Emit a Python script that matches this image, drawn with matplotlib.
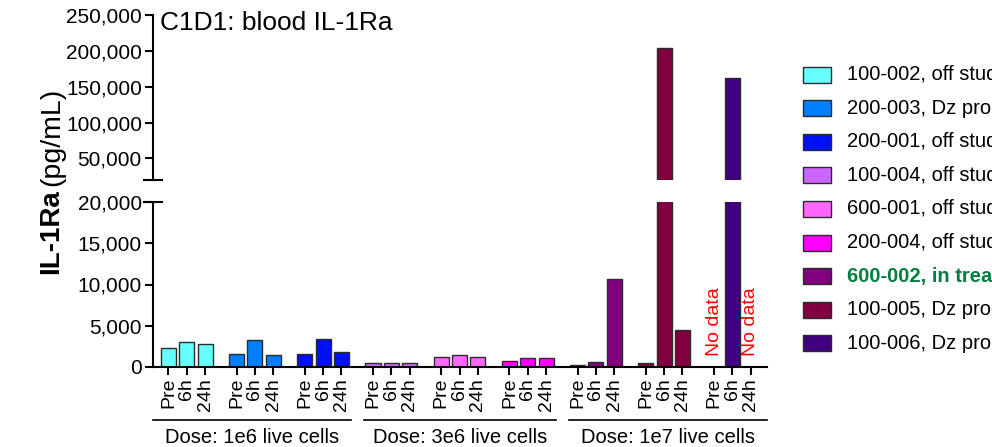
import numpy as np
import matplotlib
matplotlib.use("Agg")
import matplotlib.pyplot as plt
from matplotlib.lines import Line2D
from matplotlib.patches import Rectangle
from matplotlib.ticker import FuncFormatter

plt.rcParams['font.family'] = ['Liberation Sans', 'DejaVu Sans']

# data (pg/mL), NaN = no sample
timepoints = ["Pre", "6h", "24h"]
patients = ["100-002, off study", "200-003, Dz progression", "200-001, off study",
            "100-004, off study", "600-001, off study", "200-004, off study",
            "600-002, in treatment", "100-005, Dz progression", "100-006, Dz progression"]
bar_colors = ["#66FFFF", "#0080FF", "#0010F5", "#CC66FF", "#FF66FF", "#FF00FF",
              "#800080", "#800040", "#400080"]
il1ra = [
    [2300, 3050, 2760],
    [1550, 3250, 1460],
    [1550, 3330, 1830],
    [450, 440, 450],
    [1180, 1390, 1150],
    [700, 1020, 1020],
    [200, 570, 10700],
    [400, 203800, 4430],
    [np.nan, 162600, np.nan],
]
doses = ["Dose: 1e6 live cells", "Dose: 3e6 live cells", "Dose: 1e7 live cells"]
highlight = "600-002, in treatment"

GROUP_STEP = 3.72
BAR_W = 0.82
XLIM = (-0.84, 32.65)

fig = plt.figure(figsize=(9.92, 4.47), dpi=100)
W, H = 992.0, 447.0
left = 153 / W
width = 614 / W
ax_top = fig.add_axes([left, 1 - 180 / H, width, 165 / H])
ax_bot = fig.add_axes([left, 1 - 366.7 / H, width, 164.4 / H])

xticks = []
xlabels = []
for i, (vals, col) in enumerate(zip(il1ra, bar_colors)):
    xs = i * GROUP_STEP + np.arange(len(timepoints))
    vals = np.array(vals, dtype=float)
    ok = np.isfinite(vals)
    for ax in (ax_top, ax_bot):
        ax.bar(xs[ok], vals[ok], width=BAR_W, color=col, edgecolor="#2b2b2b", linewidth=1.0)
    for x, v in zip(xs[~ok], vals[~ok]):
        ax_bot.text(x, 1350, "No data", color="red", rotation=90, ha="center", va="bottom", fontsize=14)
    xticks.extend(xs)
    xlabels.extend(timepoints)

fmt = FuncFormatter(lambda v, p: f"{v:,.0f}")

ax_top.set_ylim(20000, 250000)
ax_top.set_yticks([50000, 100000, 150000, 200000, 250000])
ax_bot.set_ylim(0, 20000)
ax_bot.set_yticks([0, 5000, 10000, 15000, 20000])
for ax in (ax_top, ax_bot):
    ax.set_xlim(*XLIM)
    ax.yaxis.set_major_formatter(fmt)
    ax.tick_params(axis="y", labelsize=15, width=1.5, length=6, pad=2)
    ax.spines["top"].set_visible(False)
    ax.spines["right"].set_visible(False)
    ax.spines["left"].set_linewidth(1.5)
    ax.spines["bottom"].set_linewidth(1.5)

ax_top.spines["bottom"].set_visible(False)
ax_top.set_xticks([])

ax_bot.set_xticks(xticks)
ax_bot.set_xticklabels(xlabels, rotation=90, fontsize=14)
ax_bot.tick_params(axis="x", width=1.5, length=6, pad=2)

# axis break caps
cap = 9 / W
fig.add_artist(Line2D([left - cap, left + cap], [1 - 180 / H] * 2, color="black", lw=1.5))
fig.add_artist(Line2D([left - cap, left + cap], [1 - 202.3 / H] * 2, color="black", lw=1.5))

# dose group brackets
span = (XLIM[1] - XLIM[0]) / len(doses)
gap = 0.71
trans = ax_bot.get_xaxis_transform()
for j, d in enumerate(doses):
    x0 = XLIM[0] + j * span + (gap / 2 if j > 0 else 0)
    x1 = XLIM[0] + (j + 1) * span - (gap / 2 if j < len(doses) - 1 else 0)
    ax_bot.plot([x0, x1], [-0.324, -0.324], transform=trans, color="black", lw=1.2, clip_on=False)
    ax_bot.text((x0 + x1) / 2, -0.43, d, transform=trans, ha="center", va="center", fontsize=14.5)

fig.text(160 / W, 1 - 23 / H, "C1D1: blood IL-1Ra", fontsize=19, va="center", ha="left")
fig.text(51 / W, 1 - 274 / H, "IL-1Ra", rotation=90, ha="center", va="bottom", fontsize=20, weight="bold")
fig.text(52 / W, 1 - 186 / H, "(pg/mL)", rotation=90, ha="center", va="bottom", fontsize=20.5)

# legend drawn by hand
for k, (name, col) in enumerate(zip(patients, bar_colors)):
    yc = 74.5 + k * 33.6
    fig.add_artist(Rectangle((803 / W, 1 - (yc + 8) / H), 28 / W, 16 / H,
                             facecolor=col, edgecolor="#2b2b2b", lw=1.0, transform=fig.transFigure))
    if name == highlight:
        fig.text(847 / W, 1 - yc / H, name, fontsize=14.5, va="center", color="#008040", weight="bold")
    else:
        fig.text(847 / W, 1 - yc / H, name, fontsize=14.5, va="center")

fig.savefig("out.png", dpi=100)
